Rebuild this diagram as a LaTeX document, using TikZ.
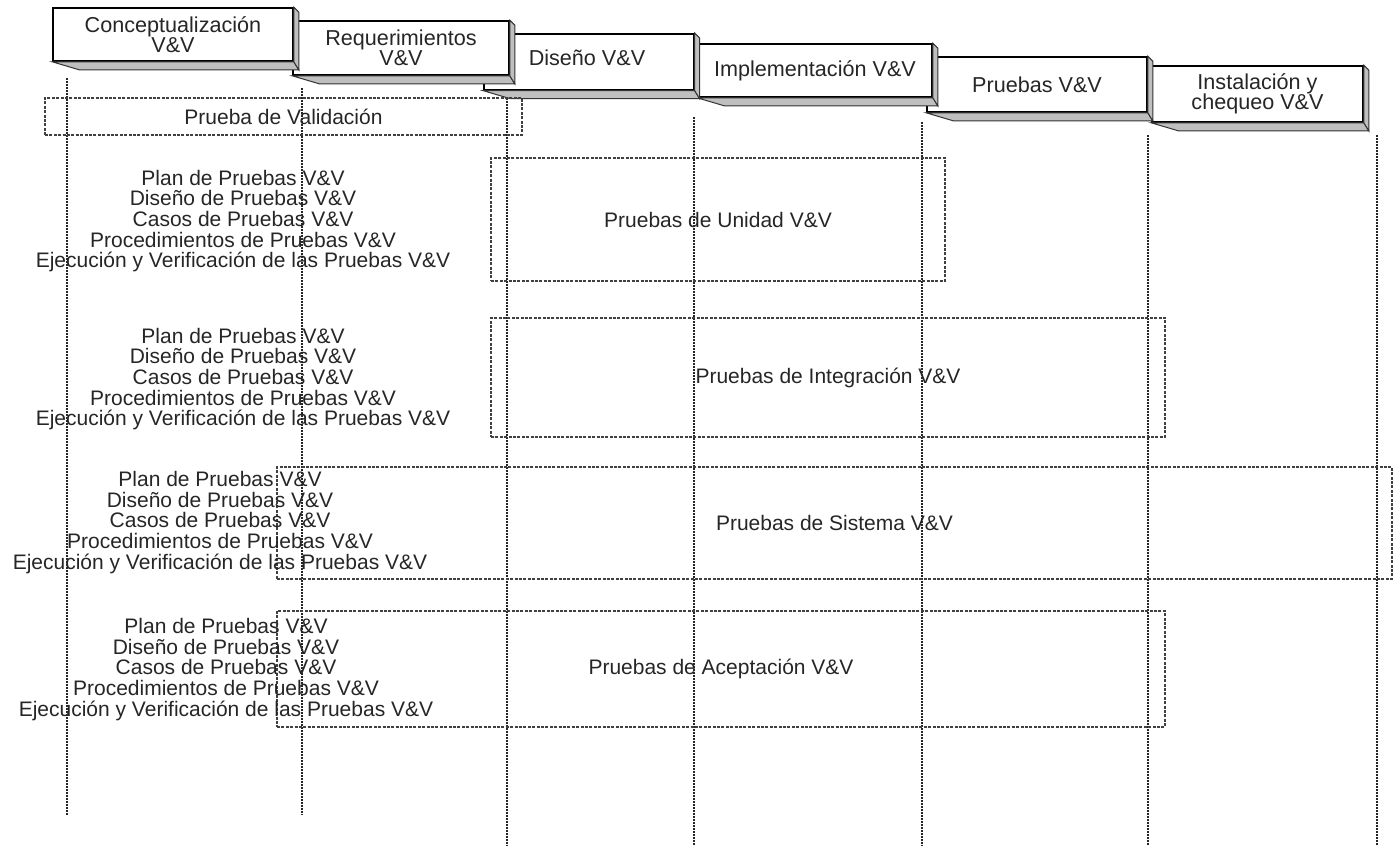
\documentclass[tikz,border=0pt]{standalone}
\usepackage{fontspec}
\setmainfont{Liberation Sans}
\usetikzlibrary{calc}

% Draws the shaded side and bottom faces of a raised phase box
\newcommand\phasefaces[1]{%
  \fill[sideface] (#1.south west) -- (#1.south east) -- ++(5,8)
     -- ($(#1.south west)+(27,8)$) -- cycle;
  \fill[sideface] (#1.north east) -- ++(5,5) -- ($(#1.south east)+(5,8)$)
     -- (#1.south east) -- cycle;
}

\begin{document}
\begin{tikzpicture}[x=0.5pt,y=-0.5pt,
  phase/.style={draw=black, line width=0.8pt, fill=white, inner sep=0pt,
    align=center, text=black!85, font=\fontsize{10.8}{10.2}\selectfont},
  sideface/.style={fill=black!25, draw=black!80, line width=0.5pt},
  vline/.style={line width=0.6pt, dash pattern=on 1pt off 0.5pt, black!85},
  stage/.style={draw=black!75, line width=0.6pt, dash pattern=on 1.5pt off 0.7pt,
    inner sep=0pt, text=black!85, font=\fontsize{10.5}{10}\selectfont},
  tasks/.style={align=center, inner sep=0pt, text=black!85,
    font=\fontsize{10.5}{10.3}\selectfont}]

\useasboundingbox (0,0) rectangle (1397,846);

% Phase boxes, drawn back to front so each one overlaps the next
\node[phase, minimum width=105.5pt, minimum height=28pt] (inst) at (1257.5,94)
  {Instalación y\\chequeo V\&V};
\phasefaces{inst}
\node[phase, minimum width=110pt, minimum height=27.5pt] (prue) at (1037,84.5)
  {Pruebas V\&V};
\phasefaces{prue}
\node[phase, minimum width=117pt, minimum height=26.5pt] (impl) at (815,70.5)
  {Implementación V\&V};
\phasefaces{impl}
\node[phase, minimum width=105pt, minimum height=28pt, anchor=north west] (dise) at (483,33)
  {};
\node[text=black!85, font=\fontsize{10.8}{10}\selectfont, inner sep=0pt] (disetxt) at (587,58) {Diseño V\&V};
\phasefaces{dise}
\node[phase, minimum width=108pt, minimum height=27pt] (requ) at (401,48)
  {Requerimientos\\V\&V};
\phasefaces{requ}
\node[phase, minimum width=120pt, minimum height=26.5pt] (conc) at (173,34.5)
  {Conceptualización\\V\&V};
\phasefaces{conc}

% Dotted life lines below each phase
\foreach \n/\x/\ya/\yb in {1/67/78/815, 2/302/88/815, 3/507/98/846, 4/694/117/846,
                          5/922/122/846, 6/1148/135/846, 7/1377/135/846} {
  \coordinate (top\n) at (\x,\ya);
  \coordinate (bot\n) at (\x,\yb);
  \draw[vline] (top\n) -- (bot\n);
}

% Test stages
\node[stage, minimum width=238.5pt, minimum height=18.5pt] (valid) at (283.5,116.5)
  {Prueba de Validación};
\node[stage, minimum width=227pt, minimum height=61.5pt] (unid) at (718,219.5)
  {Pruebas de Unidad V\&V};
\node[stage, minimum width=337pt, minimum height=59.5pt] (integ) at (828,377.5)
  {Pruebas de Integración V\&V};
\node[stage, minimum width=557.5pt, minimum height=56pt] (sist) at (834.5,523)
  {Pruebas de Sistema V\&V};
\node[stage, minimum width=444pt, minimum height=58pt] (acep) at (721,669)
  {Pruebas de Aceptación V\&V};

% Test activities for each stage
\node[tasks] (tunid) at (243,221) {Plan de Pruebas V\&V\\Diseño de Pruebas V\&V\\Casos de Pruebas V\&V\\Procedimientos de Pruebas V\&V\\Ejecución y Verificación de las Pruebas V\&V};
\node[tasks] (tinteg) at (243,379) {Plan de Pruebas V\&V\\Diseño de Pruebas V\&V\\Casos de Pruebas V\&V\\Procedimientos de Pruebas V\&V\\Ejecución y Verificación de las Pruebas V\&V};
\node[tasks] (tsist) at (220,522.5) {Plan de Pruebas V\&V\\Diseño de Pruebas V\&V\\Casos de Pruebas V\&V\\Procedimientos de Pruebas V\&V\\Ejecución y Verificación de las Pruebas V\&V};
\node[tasks] (tacep) at (226,669.5) {Plan de Pruebas V\&V\\Diseño de Pruebas V\&V\\Casos de Pruebas V\&V\\Procedimientos de Pruebas V\&V\\Ejecución y Verificación de las Pruebas V\&V};

\end{tikzpicture}
\end{document}
